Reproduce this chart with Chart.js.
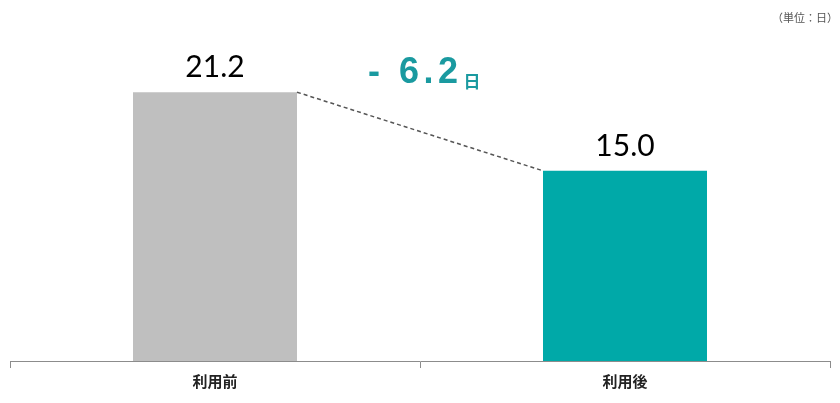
<!DOCTYPE html>
<html>
<head>
<meta charset="utf-8">
<script src="https://cdn.jsdelivr.net/npm/chart.js@4"></script>
<style>
  html, body { margin: 0; padding: 0; background: #fff; }
  #wrap { position: relative; width: 840px; height: 403px; }
</style>
</head>
<body>
<div id="wrap"><canvas id="chart1"></canvas></div>
<script>
const categories = ['利用前', '利用後'];
const values = [21.2, 15.0];
const barColors = ['#bfbfbf', '#00a9a8'];
const unitLabel = '（単位：日）';
const diffUnit = '日';

const JP = '"Noto Sans CJK JP", "Noto Sans", sans-serif';

// value labels, dashed connector, difference note, unit label
const overlay = {
    id: 'overlay',
    afterDatasetsDraw(chart) {
        const ctx = chart.ctx;
        const bars = chart.getDatasetMeta(0).data;
        ctx.save();

        ctx.fillStyle = '#000';
        ctx.font = '30px Lato, "Open Sans", sans-serif';
        ctx.textAlign = 'center';
        ctx.textBaseline = 'alphabetic';
        bars.forEach((b, i) => ctx.fillText(values[i].toFixed(1), b.x, b.y - 15));

        const a = bars[0], c = bars[1];
        ctx.strokeStyle = '#555';
        ctx.lineWidth = 1.5;
        ctx.setLineDash([4, 3]);
        ctx.beginPath();
        ctx.moveTo(a.x + a.width / 2, a.y);
        ctx.lineTo(c.x - c.width / 2, c.y);
        ctx.stroke();
        ctx.setLineDash([]);

        // difference, drawn char by char with a little extra spacing
        const diff = (values[1] - values[0]).toFixed(1).replace('-', '- ');
        ctx.fillStyle = '#1a9aa0';
        ctx.textAlign = 'left';
        ctx.font = 'bold 36px "Liberation Sans", Arial, sans-serif';
        let x = 368;
        for (const ch of diff) {
            ctx.fillText(ch, x, 83);
            x += ctx.measureText(ch).width + 4.5;
        }
        ctx.font = 'bold 17px ' + JP;
        ctx.fillText(diffUnit, x + 1, 88);

        ctx.fillStyle = '#555';
        ctx.font = '11px ' + JP;
        ctx.textAlign = 'right';
        ctx.fillText(unitLabel, 838, 22);
        ctx.restore();
    }
};

document.addEventListener('DOMContentLoaded', () => {
    const ctx1 = document.getElementById('chart1').getContext('2d');
    new Chart(ctx1, {
        type: 'bar',
        data: {
            labels: categories,
            datasets: [{
                data: values,
                backgroundColor: barColors,
                borderWidth: 0,
                categoryPercentage: 0.4,
                barPercentage: 1.0
            }]
        },
        options: {
            responsive: true,
            maintainAspectRatio: false,
            animation: false,
            layout: { padding: { left: 10, right: 10, top: 44, bottom: 9 } },
            scales: {
                x: {
                    grid: { display: true, drawOnChartArea: false, tickLength: 7, color: '#8c8c8c', offset: true },
                    border: { display: true, color: '#8c8c8c', width: 1 },
                    ticks: { color: '#222', padding: 4, font: { family: JP, size: 15, weight: 'bold' } }
                },
                y: { display: false, min: 0, max: 25 }
            },
            plugins: {
                legend: { display: false },
                tooltip: { enabled: false }
            }
        },
        plugins: [overlay]
    });
});
</script>
</body>
</html>
